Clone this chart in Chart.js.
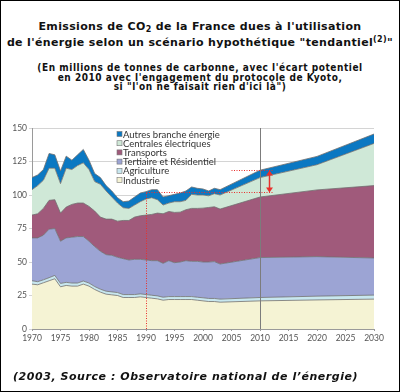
<!DOCTYPE html>
<html>
<head>
<meta charset="utf-8">
<script src="https://cdn.jsdelivr.net/npm/chart.js@4.4.0/dist/chart.umd.min.js"></script>
<style>
  html, body { margin: 0; padding: 0; background: #fff; }
  #frame { position: relative; width: 400px; height: 392px; box-sizing: border-box; border: 1px solid #000; overflow: hidden; }
  .title { position: absolute; left: 0; width: 398px; text-align: center; font-weight: bold; color: #111; }
  #t1 { top: 18px; font-family: "DejaVu Sans"; font-size: 11px; line-height: 15.5px; letter-spacing: 0.35px; }
  #t1 sub { font-size: 8px; line-height: 0; vertical-align: -2px; }
  #t1 sup { font-size: 8px; line-height: 0; vertical-align: 4px; }
  #t2 { top: 62px; font-family: "DejaVu Sans Condensed"; font-size: 10px; line-height: 9.6px; letter-spacing: 0.55px; }
  #foot { position: absolute; left: 12px; top: 369px; font-family: "DejaVu Sans"; font-style: italic; font-weight: bold; font-size: 11px; letter-spacing: 0.55px; color: #111; }
  #chartbox { position: absolute; left: -1px; top: -1px; width: 400px; height: 392px; }
</style>
</head>
<body>
<div id="frame">
  <div id="t1" class="title">Emissions de CO<sub>2</sub> de la France dues à l'utilisation<br>de l'énergie selon un scénario hypothétique "tendantiel<sup>(2)</sup>"</div>
  <div id="t2" class="title">(En millions de tonnes de carbonne, avec l'écart potentiel<br>en 2010 avec l'engagement du protocole de Kyoto,<br>si "l'on ne faisait rien d'ici là")</div>
  <div id="chartbox"><canvas id="chart" width="400" height="392"></canvas></div>
  <div id="foot">(2003, Source : Observatoire national de l’énergie)</div>
</div>
<script>
// years: measured until 2003, then scenario points
const years = [1970, 1971, 1972, 1973, 1974, 1975, 1976, 1977, 1978, 1979,
  1980, 1981, 1982, 1983, 1984, 1985, 1986, 1987, 1988, 1989,
  1990, 1991, 1992, 1993, 1994, 1995, 1996, 1997, 1998, 1999,
  2000, 2001, 2002, 2003, 2010, 2020, 2030];

// values per sector, millions of tonnes of carbon (stacked bottom to top)
const industrie = [33.5, 33, 34.5, 36, 37.5, 31.5, 32.5, 32, 32, 33.5,
  32, 29.5, 27.5, 26, 25.5, 25, 23.5, 23.5, 23.5, 24,
  23.5, 23, 22.5, 21.5, 22, 22, 22, 22, 22, 21.5,
  21, 20.5, 20.5, 20, 21, 21.7, 22.3];
const agriculture = [2.5, 2.3, 2.2, 2.3, 2.5, 2.5, 2.3, 2.3, 2.3, 2.3,
  2.3, 2.2, 2.2, 2.2, 2.2, 2.2, 2.2, 2.2, 2.2, 2.2,
  2.2, 2.2, 2.2, 2.2, 2.2, 2.2, 2.2, 2.2, 2.2, 2.2,
  2.3, 2.3, 2.3, 2.3, 2.5, 2.8, 3.0];
const tertiaire = [32, 32.7, 33.3, 36.2, 35, 31.5, 33.2, 34.2, 34.7, 33.2,
  31.2, 29.8, 28.3, 27.3, 27.3, 26.3, 26.8, 25.8, 26.3, 25.8,
  25.8, 25.8, 26.3, 25.3, 26.8, 25.3, 25.8, 26.8, 26.3, 26.8,
  26.7, 27.2, 27.5, 26.2, 29.8, 29.5, 27.7];
const transports = [17, 18, 20, 21.5, 21.5, 21, 23, 24.5, 25, 25,
  26, 26.5, 25.5, 26.5, 27, 27, 28.5, 29.5, 31.5, 32.5,
  33.5, 34.5, 35.5, 37, 36.7, 37.5, 37.2, 38, 39.5, 39.5,
  40.2, 40.7, 40.9, 41, 45.2, 49.8, 54];
const centrales = [19, 21, 21, 24, 23.5, 22, 29, 26, 28, 30,
  27.5, 22, 24.5, 21, 16.5, 13.5, 9.5, 9, 9, 10.5,
  12, 12.5, 10, 6.5, 6.3, 8, 7.8, 7, 10.5, 10,
  9.8, 8.7, 9.8, 10.5, 14.5, 18.8, 31.5];
const autres = [9, 8, 8, 11, 10, 9.5, 9, 7, 8, 10,
  7, 6, 5, 4, 4.5, 4, 4.5, 5.5, 6, 6.5,
  5.5, 6, 7.5, 6, 5.5, 5.5, 6.5, 7, 5.5, 5,
  4.5, 3.6, 4, 4, 5.5, 6.2, 7];

const sectorLabels = ["Industrie", "Agriculture", "Tertiaire et Résidentiel",
  "Transports", "Centrales électriques", "Autres branche énergie"];
const sectorColors = ["#f5f3d4", "#c8e7ef", "#9ca4d4", "#a05a7b", "#cfe8d7", "#0b78c2"];
const yTicks = [0, 25, 50, 75, 100, 125, 150];

// Kyoto gap markers (data coordinates)
const refYear = 1990, targetYear = 2010;
const level1990 = 102.5, level2010 = 118.5;
const gapLineStart = 2005, gapLineEnd = 2012.2, arrowYear = 2011.5;

const series = [industrie, agriculture, tertiaire, transports, centrales, autres];

const datasets = series.map((vals, i) => ({
  label: sectorLabels[i],
  data: years.map((yr, k) => ({ x: yr, y: vals[k] })),
  backgroundColor: sectorColors[i],
  borderColor: "#6e6e6e",
  borderWidth: 0.8,
  pointRadius: 0,
  tension: 0,
  fill: i === 0 ? "origin" : "-1",
}));

function segment(ctx, x1, y1, x2, y2) {
  ctx.beginPath();
  ctx.moveTo(x1, y1);
  ctx.lineTo(x2, y2);
  ctx.stroke();
}

const overlay = {
  id: "overlay",
  afterDatasetsDraw(chart) {
    const { ctx, scales: { x, y } } = chart;
    ctx.save();
    // 2010 vertical line
    const x10 = Math.round(x.getPixelForValue(targetYear)) + 0.5;
    ctx.strokeStyle = "#7c7c7c";
    ctx.lineWidth = 1;
    segment(ctx, x10, y.getPixelForValue(0), x10, y.getPixelForValue(150));

    // red dotted references
    ctx.strokeStyle = "#e8302c";
    ctx.setLineDash([1, 1.5]);
    const x90 = Math.round(x.getPixelForValue(refYear)) + 0.5;
    const yLow = Math.round(y.getPixelForValue(level1990)) + 0.5;
    const yHigh = Math.round(y.getPixelForValue(level2010)) + 0.5;
    segment(ctx, x90, y.getPixelForValue(0), x90, yLow);
    segment(ctx, x90, yLow, x.getPixelForValue(gapLineEnd), yLow);
    segment(ctx, x.getPixelForValue(gapLineStart), yHigh, x.getPixelForValue(gapLineEnd), yHigh);
    ctx.setLineDash([]);

    // double arrow
    const xa = Math.round(x.getPixelForValue(arrowYear)) + 0.5;
    ctx.lineWidth = 1.5;
    segment(ctx, xa, yHigh + 4, xa, yLow - 4);
    ctx.fillStyle = "#e8302c";
    ctx.beginPath();
    ctx.moveTo(xa, yHigh); ctx.lineTo(xa - 3.5, yHigh + 5); ctx.lineTo(xa + 3.5, yHigh + 5);
    ctx.closePath(); ctx.fill();
    ctx.beginPath();
    ctx.moveTo(xa, yLow); ctx.lineTo(xa - 3.5, yLow - 5); ctx.lineTo(xa + 3.5, yLow - 5);
    ctx.closePath(); ctx.fill();
    ctx.restore();
  },
  afterDraw(chart) {
    // legend inside the plot, top entry first
    const { ctx } = chart;
    ctx.save();
    ctx.font = "9.5px Lato";
    ctx.textBaseline = "middle";
    const n = chart.data.datasets.length;
    for (let i = 0; i < n; i++) {
      const ds = chart.data.datasets[n - 1 - i];
      const yy = 134 + i * 9.2;
      ctx.fillStyle = ds.backgroundColor;
      ctx.fillRect(117, yy - 2.5, 5, 5);
      ctx.strokeStyle = "#777";
      ctx.lineWidth = 0.6;
      ctx.strokeRect(117, yy - 2.5, 5, 5);
      ctx.fillStyle = "#333";
      ctx.fillText(ds.label, 123, yy + 0.5);
    }
    ctx.restore();
  },
};

new Chart(document.getElementById("chart"), {
  type: "line",
  data: { datasets },
  options: {
    responsive: false,
    animation: false,
    layout: { padding: { top: 128, left: 0, right: 26, bottom: 43 } },
    plugins: { legend: { display: false }, tooltip: { enabled: false } },
    scales: {
      x: {
        type: "linear",
        min: 1970,
        max: 2030,
        ticks: { stepSize: 5, color: "#555", font: { family: "Lato", size: 8.5 }, padding: 2, maxRotation: 0,
          callback: (v) => String(v) },
        grid: { drawOnChartArea: false, tickLength: 2, color: "#999" },
        border: { color: "#9a9a9a" },
        afterFit(scale) { scale.height = 20; scale.paddingLeft = 0; scale.paddingRight = 0; },
      },
      y: {
        stacked: true,
        min: 0,
        max: 150,
        afterBuildTicks(scale) { scale.ticks = yTicks.map((v) => ({ value: v })); },
        ticks: { color: "#555", font: { family: "Lato", size: 8.5 }, padding: 2 },
        grid: { color: "#d4d4d4", tickLength: 3 },
        border: { color: "#9a9a9a" },
        afterFit(scale) { scale.width = 32; scale.paddingTop = 0; scale.paddingBottom = 0; },
      },
    },
  },
  plugins: [overlay],
});
</script>
</body>
</html>
